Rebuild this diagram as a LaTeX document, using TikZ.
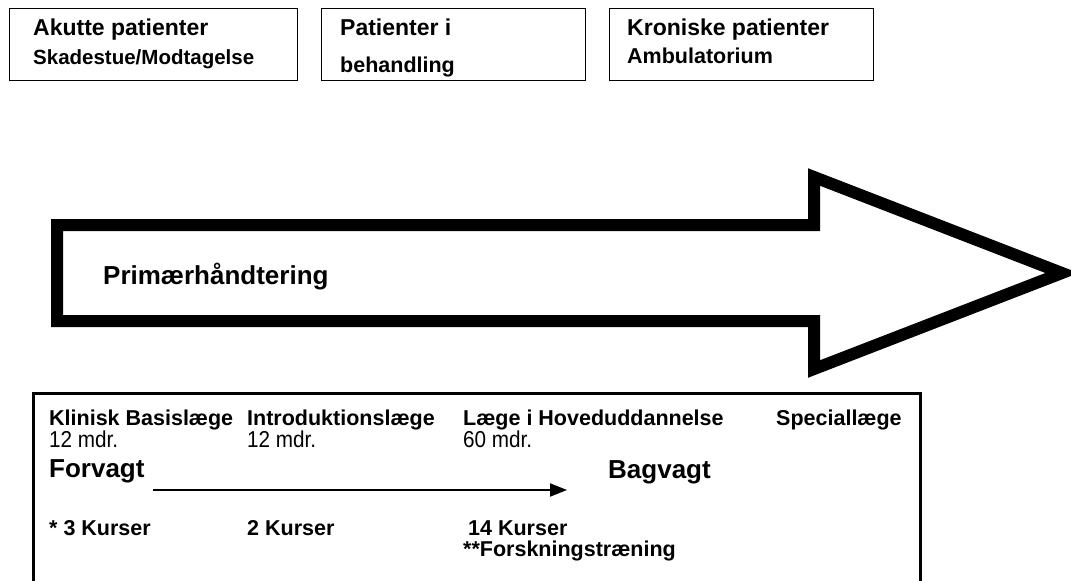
\documentclass[tikz,border=0pt]{standalone}
\usepackage{fontspec}
\setmainfont{Liberation Sans}
\newfontfamily\durationfont[FakeStretch=0.9]{Liberation Sans}
\usetikzlibrary{arrows.meta}
\begin{document}
\begin{tikzpicture}[x=1pt,y=-1pt,
  topbox/.style={draw, line width=1.4pt, anchor=north west, inner sep=0pt, minimum height=72pt},
  boxhead/.style={anchor=base west, inner sep=0pt, font=\bfseries\fontsize{23}{27}\selectfont},
  boxsub/.style={anchor=base west, inner sep=0pt, font=\bfseries\fontsize{21.5}{25}\selectfont},
  stage/.style={anchor=base west, inner sep=0pt, font=\bfseries\fontsize{21.5}{25}\selectfont},
  months/.style={anchor=base west, inner sep=0pt, font=\durationfont\fontsize{23}{27}\selectfont},
  duty/.style={anchor=base west, inner sep=0pt, font=\bfseries\fontsize{26}{30}\selectfont}]
\useasboundingbox (0,0) rectangle (1071,581);
\clip (0,0) rectangle (1071,581);

% patient categories
\node[topbox, minimum width=288pt] (acute) at (9,8) {};
\node[topbox, minimum width=264pt] (treat) at (321,8) {};
\node[topbox, minimum width=264pt] (chron) at (609,8) {};
\node[boxhead] (acuteA) at (33,35) {Akutte patienter};
\node[boxsub, font=\bfseries\fontsize{20.5}{24}\selectfont] (acuteB) at (33,64) {Skadestue/Modtagelse};
\begin{scope}
  \clip (321,8) rectangle (585,76.5);
  \node[boxhead] (treatA) at (340,35) {Patienter i};
  \node[boxsub] (treatB) at (340,72) {behandling};
\end{scope}
\node[boxhead] (chronA) at (627,35) {Kroniske patienter};
\node[boxsub] (chronB) at (627,63) {Ambulatorium};

% big outlined arrow
\draw[line width=12pt, miter limit=20]
  (57,225) -- (814,225) -- (814,177) -- (1062,273) -- (814,369) -- (814,321) -- (57,321) -- cycle;
\node[duty] (primary) at (103,284) {Primærhåndtering};

% training stages
\draw[line width=3pt] (33,600) -- (33,393) -- (920,393) -- (920,600);
\node[stage] (basis)  at (49,425)  {Klinisk Basislæge};
\node[stage] (intro)  at (247,425) {Introduktionslæge};
\node[stage] (hoved)  at (463,425) {Læge i Hoveduddannelse};
\node[stage] (special) at (776,425) {Speciallæge};
\node[months] (basisM) at (49,447)  {12 mdr.};
\node[months] (introM) at (247,447) {12 mdr.};
\node[months] (hovedM) at (463,447) {60 mdr.};
\node[duty] (forvagt) at (49,477)  {Forvagt};
\node[duty] (bagvagt) at (608,478) {Bagvagt};
\coordinate (railStart) at (153,490);
\coordinate (railEnd) at (567,490);
\draw[line width=2pt, -{Triangle[length=17pt,width=13pt]}] (railStart) -- (railEnd);
\node[stage] (basisK) at (49,535)  {* 3 Kurser};
\node[stage] (introK) at (247,535) {2 Kurser};
\node[stage] (hovedK) at (468,535) {14 Kurser};
\node[stage] (research) at (463,556) {**Forskningstræning};
\end{tikzpicture}
\end{document}
